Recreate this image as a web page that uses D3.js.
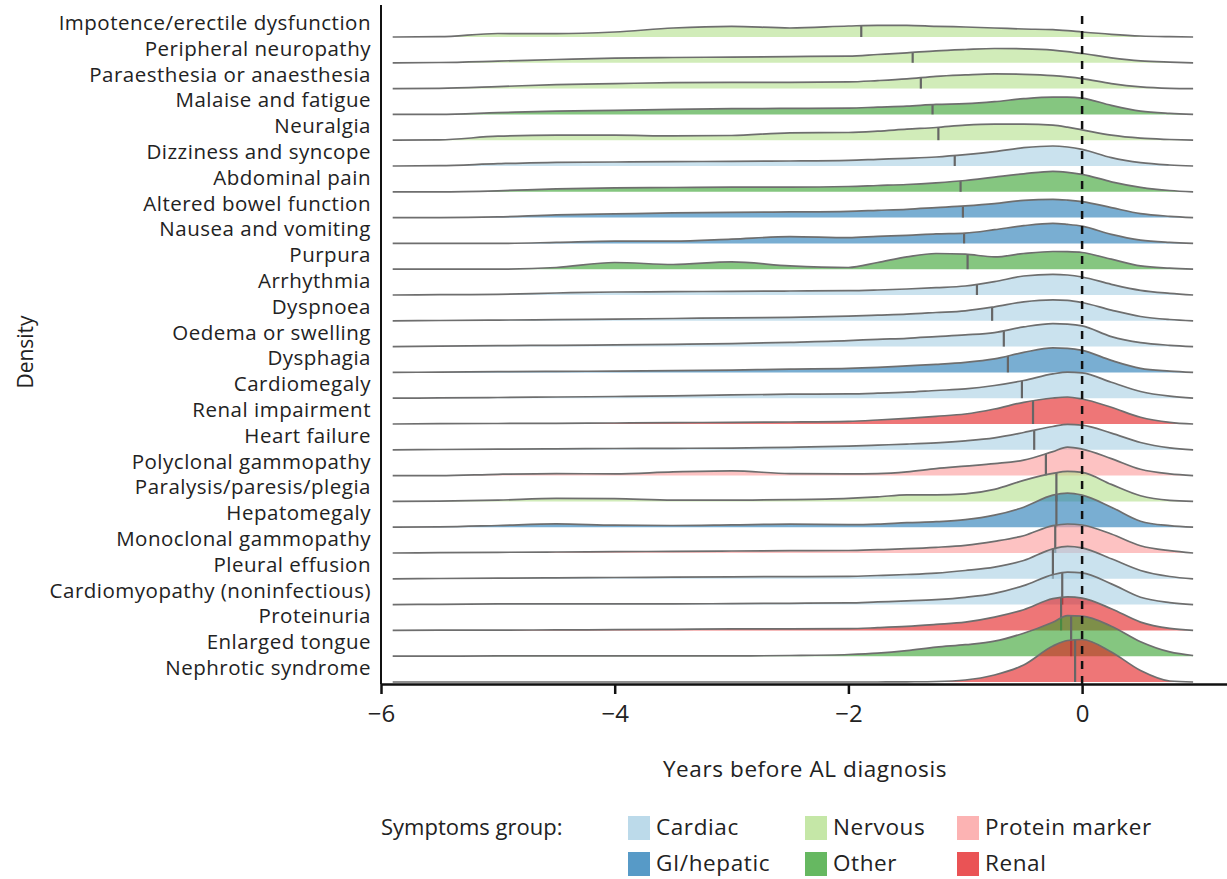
<!DOCTYPE html>
<html>
<head>
<meta charset="utf-8">
<script src="https://cdn.jsdelivr.net/npm/d3@7/dist/d3.min.js"></script>
<style>
  body { margin: 0; background: #fff; }
  text { font-family: "Open Sans", Lato, sans-serif; fill: #222; }
</style>
</head>
<body>
<svg id="vis" width="1227" height="879"></svg>
<script>
// symptoms, top to bottom
var symptoms = [
    "Impotence/erectile dysfunction", "Peripheral neuropathy", "Paraesthesia or anaesthesia",
    "Malaise and fatigue", "Neuralgia", "Dizziness and syncope", "Abdominal pain",
    "Altered bowel function", "Nausea and vomiting", "Purpura", "Arrhythmia", "Dyspnoea",
    "Oedema or swelling", "Dysphagia", "Cardiomegaly", "Renal impairment", "Heart failure",
    "Polyclonal gammopathy", "Paralysis/paresis/plegia", "Hepatomegaly", "Monoclonal gammopathy",
    "Pleural effusion", "Cardiomyopathy (noninfectious)", "Proteinuria", "Enlarged tongue",
    "Nephrotic syndrome"
];

var groups = [
    "Nervous", "Nervous", "Nervous", "Other", "Nervous", "Cardiac", "Other",
    "GI/hepatic", "GI/hepatic", "Other", "Cardiac", "Cardiac",
    "Cardiac", "GI/hepatic", "Cardiac", "Renal", "Cardiac",
    "Protein marker", "Nervous", "GI/hepatic", "Protein marker",
    "Cardiac", "Cardiac", "Renal", "Other", "Renal"
];

// median years before diagnosis
var medians = [-1.89, -1.45, -1.38, -1.28, -1.23, -1.09, -1.04, -1.02, -1.01, -0.98, -0.90, -0.77,
    -0.67, -0.635, -0.515, -0.42, -0.41, -0.31, -0.22, -0.22, -0.23, -0.25, -0.17, -0.18, -0.094, -0.06];

// density evaluation grid (years)
var years = [-5.9, -5.5, -5, -4.5, -4, -3.5, -3, -2.5, -2, -1.75, -1.5, -1.25, -1, -0.75, -0.5, -0.25, -0.125, 0, 0.25, 0.5, 0.75, 0.95];

// relative density, one row per symptom (same order)
var density = [
    [0, 0.3, 3.5, 3.3, 5, 9, 10.7, 9, 11, 11.7, 11.7, 10.7, 10, 9, 8, 7.3, 6.3, 5, 2.7, 1, 0.3, 0],
    [0, 0.3, 1.7, 3.3, 4.7, 5.3, 5.7, 6.2, 6.7, 8.3, 10, 12, 13.3, 14.3, 14, 12.7, 11.2, 9.3, 5, 2, 0.7, 0],
    [0, 0.3, 2, 4, 5, 6, 6.3, 6.3, 6.7, 8, 9.7, 12.3, 13.7, 14.7, 14.3, 13, 11.7, 10, 5, 1.7, 0.3, 0],
    [0, 0, 1.7, 3.3, 4, 5, 5.7, 6, 6.3, 7.3, 8.3, 10, 10.7, 12.7, 15.7, 17.3, 17.3, 16.3, 9, 3.3, 1, 0],
    [0, 0.3, 4, 5, 5, 4.3, 4.7, 7.3, 7.7, 9, 11, 12.7, 15, 16, 16, 15, 13, 10.3, 5, 2, 0.7, 0],
    [0, 0.3, 2.3, 3.7, 4, 4.3, 4.7, 5, 5.7, 6.7, 7.7, 9, 11.3, 14.3, 18.3, 20, 19, 16.7, 8.3, 3.3, 1, 0],
    [0, 0, 1, 3, 4, 4.3, 4.7, 4.7, 5.3, 6.3, 7.3, 9, 11.3, 14.7, 18, 20.5, 19.5, 17.5, 10, 4.5, 1.3, 0],
    [0, 0, 0.7, 2.7, 3.7, 4.7, 5.3, 5.7, 6.3, 7.3, 8.3, 10, 11.7, 14, 17.3, 18.3, 17.5, 16, 10, 4, 1.3, 0],
    [0, 0, 0, 1, 2.3, 2.3, 4.3, 6.7, 5.7, 7, 8, 9.5, 10.3, 13.7, 17.7, 20, 19, 17.3, 9, 3.3, 1, 0],
    [0, 0, 0, 1.7, 6.7, 4.7, 7.3, 3.3, 1.7, 6.7, 12.3, 15.7, 15, 12.3, 15.7, 17.7, 17.5, 16.7, 10, 3.3, 1, 0],
    [0, 0.3, 0.7, 2, 3, 3.3, 3.7, 4, 4.3, 5, 6, 7.3, 9, 13.3, 19, 20.7, 20, 18, 10.7, 4.7, 1.7, 0],
    [0, 0.3, 0.7, 1.2, 1.7, 2.3, 3, 3.5, 4.7, 5.7, 6.7, 8.3, 10, 14, 19, 21, 20.5, 18.3, 10.7, 4.3, 1.3, 0],
    [0, 0.5, 1, 1.3, 1.7, 2.3, 3, 4.3, 6, 7.3, 8.3, 10, 11.7, 14, 19.7, 23, 22.5, 20.7, 10, 4, 1.3, 0],
    [0, 0.3, 0.7, 1, 1.3, 1.7, 2.3, 3.3, 4, 5, 6.5, 8, 10, 13.5, 20, 24.5, 24, 22, 12, 4, 1.3, 0],
    [0, 0.3, 0.7, 1.2, 1.7, 2.3, 3.3, 4, 4.3, 5, 6, 7.7, 9.3, 12.7, 17.7, 24.3, 26, 25.3, 16, 6.7, 2, 0],
    [0, 0.3, 0.5, 0.7, 1, 1.3, 1.7, 2, 2.7, 4, 5.7, 7.7, 10, 15, 21.7, 26, 27, 25, 16.7, 6.7, 1.7, 0],
    [0, 0.3, 0.7, 1, 1.3, 1.5, 1.7, 2.5, 3.7, 4.7, 5.7, 7, 9, 12, 17.3, 23.3, 25.5, 24.7, 16.7, 7.3, 2, 0],
    [0, 0, 1.3, 2, 1.7, 3.7, 4.7, 2, 1.7, 2, 3.7, 7, 9.5, 12, 15.5, 24, 28.5, 26.5, 17, 6.3, 1.7, 0],
    [0, 0.3, 1.3, 3, 2.7, 1.3, 1.3, 1.7, 3, 4.5, 6.5, 6.5, 7.5, 12, 21, 28, 30, 29, 17, 5.7, 1, 0],
    [0, 0.3, 1.7, 3.3, 2, 1.7, 2.3, 3, 2.5, 3, 4.5, 5.5, 7.5, 12, 20, 32, 34, 32, 20, 6, 1.5, 0],
    [0, 0.3, 0.7, 1, 1.3, 1.7, 2, 2.3, 2.5, 3.3, 4.3, 5.7, 7.7, 11.7, 17.3, 27.3, 29, 28, 19, 7.3, 2.3, 0],
    [0, 0.3, 0.7, 1, 1.3, 1.7, 2, 2.2, 2.5, 3.3, 4.3, 5.7, 8.3, 11.7, 18.3, 30, 32.5, 31, 20, 8.3, 2.3, 0],
    [0, 0.3, 0.7, 0.7, 0.7, 0.7, 1, 1.3, 1.7, 2.7, 3.7, 5, 7.3, 11.3, 19, 30, 32.5, 31.7, 20.7, 7.3, 2, 0],
    [0, 0.2, 0.3, 0.5, 0.7, 1, 1.5, 1.5, 1.7, 2.7, 4, 6, 8.3, 13.3, 20.7, 31.7, 33.5, 32.3, 21.7, 8.3, 2, 0],
    [0, 0, 0.3, 0.3, 0.3, 0.3, 0.3, 0.7, 1.7, 3, 5.5, 9, 11.5, 15, 23, 34, 40.5, 40, 30, 14.5, 4.3, 0.7],
    [0, 0, 0, 0, 0, 0, 0, 0, 0, 0, 0.2, 0.5, 2, 7, 17, 36, 41.5, 42.5, 30, 11.5, 1, 0]
];

var groupNames = ["Cardiac", "GI/hepatic", "Nervous", "Other", "Protein marker", "Renal"];
var groupColors = ["#a6cee3", "#1f78b4", "#b2df8a", "#33a02c", "#fb9a99", "#e31a1c"];
// legend layout order (two rows)
var legendOrder = ["Cardiac", "Nervous", "Protein marker", "GI/hepatic", "Other", "Renal"];

var tickYears = [-6, -4, -2, 0];

var svg = d3.select('#vis');

var plot = {l: 381, r: 1227, top: 37, bottom: 682, axisY: 684};

var x = d3.scaleLinear().domain([-6, 1.24]).range([plot.l, plot.r]);
var y = d3.scalePoint().domain(symptoms).range([plot.top, plot.bottom]);
var h = d3.scaleLinear().domain([0, 45]).range([0, 45]);
var color = d3.scaleOrdinal().domain(groupNames).range(groupColors);

function densityAt(row, yr) {
    for (var i = 0; i < years.length - 1; i++) {
        if (yr >= years[i] && yr <= years[i + 1]) {
            var t = (yr - years[i]) / (years[i + 1] - years[i]);
            return density[row][i] * (1 - t) + density[row][i + 1] * t;
        }
    }
    return 0;
}

// ridges, top row first so lower rows sit on top
var ridges = svg.append('g').attr('class', 'ridges');

symptoms.forEach(function (name, i) {
    var base = y(name);
    var pts = years.map(function (yr, j) { return [yr, density[i][j]]; });

    var area = d3.area()
        .x(function (d) { return x(d[0]); })
        .y0(base)
        .y1(function (d) { return base - h(d[1]); })
        .curve(d3.curveMonotoneX);

    var line = d3.line()
        .x(function (d) { return x(d[0]); })
        .y(function (d) { return base - h(d[1]); })
        .curve(d3.curveMonotoneX);

    var g = ridges.append('g').attr('class', 'ridge');

    g.append('path')
        .attr('d', area(pts))
        .attr('fill', color(groups[i]))
        .attr('fill-opacity', 0.6);

    g.append('line')
        .attr('x1', x(medians[i]))
        .attr('x2', x(medians[i]))
        .attr('y1', base)
        .attr('y2', base - h(densityAt(i, medians[i])))
        .attr('stroke', '#666')
        .attr('stroke-width', 2.2);

    g.append('path')
        .attr('d', line(pts))
        .attr('fill', 'none')
        .attr('stroke', '#6e6e6e')
        .attr('stroke-width', 1.7);
});

// row labels
svg.append('g').selectAll('text')
    .data(symptoms)
    .enter()
    .append('text')
    .attr('x', plot.l - 10)
    .attr('y', function (d) { return y(d) - 7; })
    .style('text-anchor', 'end')
    .style('font-size', '20.5px')
    .style('letter-spacing', '0.5px')
    .text(function (d) { return d; });

// dashed line at diagnosis
svg.append('line')
    .attr('x1', x(0)).attr('x2', x(0))
    .attr('y1', plot.axisY).attr('y2', 10)
    .attr('stroke', '#111')
    .attr('stroke-width', 2.5)
    .attr('stroke-dasharray', '8,7');

// left axis line
svg.append('line')
    .attr('x1', plot.l).attr('x2', plot.l)
    .attr('y1', 5).attr('y2', plot.axisY)
    .attr('stroke', '#111')
    .attr('stroke-width', 2);

// bottom axis
var xAxis = svg.append('g')
    .attr('class', 'axis axis--x')
    .attr('transform', 'translate(0,' + plot.axisY + ')')
    .call(d3.axisBottom(x)
        .tickValues(tickYears)
        .tickSize(10)
        .tickSizeOuter(0)
        .tickPadding(11)
        .tickFormat(function (d) { return d < 0 ? '\u2212' + Math.abs(d) : d; }));

xAxis.select('.domain').attr('stroke', '#111').attr('stroke-width', 2.5);
xAxis.selectAll('.tick line').attr('stroke', '#111').attr('stroke-width', 2.5);
xAxis.selectAll('text')
    .style('font-size', '24px')
    .attr('fill', '#222')
    .style('font-family', '"Open Sans", sans-serif');

svg.append('text')
    .attr('x', 805)
    .attr('y', 777)
    .style('text-anchor', 'middle')
    .style('font-size', '22.5px')
    .style('letter-spacing', '0.6px')
    .text('Years before AL diagnosis');

svg.append('text')
    .attr('transform', 'rotate(-90)')
    .attr('x', -352)
    .attr('y', 33)
    .style('text-anchor', 'middle')
    .style('font-size', '21px')
    .text('Density');

// legend
var legend = svg.append('g').attr('class', 'legend');

legend.append('text')
    .attr('x', plot.l)
    .attr('y', 835)
    .style('font-size', '22px')
    .text('Symptoms group:');

var legendCols = [628, 805, 957];
var legendRows = [816, 852];

legendOrder.forEach(function (name, i) {
    var lx = legendCols[i % 3];
    var ly = legendRows[Math.floor(i / 3)];
    legend.append('rect')
        .attr('x', lx).attr('y', ly)
        .attr('width', 22).attr('height', 24)
        .attr('fill', color(name))
        .attr('fill-opacity', 0.75);
    legend.append('text')
        .attr('x', lx + 28)
        .attr('y', ly + 19)
        .style('font-size', '22.5px')
        .style('letter-spacing', '0.6px')
        .text(name);
});
</script>
</body>
</html>
